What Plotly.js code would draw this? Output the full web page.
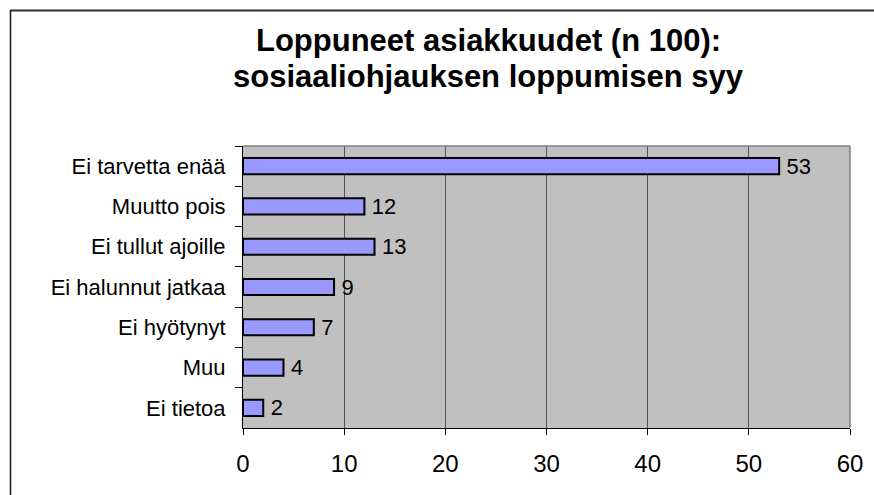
<!DOCTYPE html>
<html>
<head>
<meta charset="utf-8">
<script src="https://cdn.plot.ly/plotly-3.0.1.min.js"></script>
<style>
html,body{margin:0;padding:0;background:#fff;}
#chart{width:874px;height:495px;}
</style>
</head>
<body>
<div id="chart"></div>
<script>
const categories = ["Ei tarvetta enää","Muutto pois","Ei tullut ajoille","Ei halunnut jatkaa","Ei hyötynyt","Muu","Ei tietoa"];
const values = [53, 12, 13, 9, 7, 4, 2];
const xTicks = [0, 10, 20, 30, 40, 50, 60];
const titleLines = ["Loppuneet asiakkuudet (n 100):", "sosiaaliohjauksen loppumisen syy"];

const W = 874, H = 495;
const L = 243, R = 850, T = 146, B = 428;
const px = x => (x - L) / (R - L);
const py = y => (B - y) / (B - T);
const FAM = 'Liberation Sans, Arial, sans-serif';

const trace = {
  type: 'bar',
  orientation: 'h',
  y: categories,
  x: values,
  width: 0.4,
  marker: {color: '#9999FF', line: {color: '#000000', width: 2}},
  text: values.map(v => '\u2009' + v),
  textposition: 'outside',
  constraintext: 'none',
  cliponaxis: false,
  textfont: {family: FAM, size: 22, color: '#000'},
  hoverinfo: 'none'
};

const layout = {
  width: W, height: H,
  margin: {l: L, r: W - R, t: T, b: H - B, pad: 0},
  paper_bgcolor: '#ffffff',
  plot_bgcolor: '#C0C0C0',
  showlegend: false,
  font: {family: FAM, size: 22, color: '#000'},
  xaxis: {
    range: [0, 60],
    tickvals: xTicks,
    ticktext: xTicks.map(String),
    showgrid: true,
    gridcolor: '#555555',
    gridwidth: 1,
    zeroline: false,
    showline: true,
    linecolor: '#000',
    linewidth: 1,
    ticks: 'outside',
    ticklen: 6,
    tickcolor: '#000',
    tickfont: {family: FAM, size: 24, color: '#000'},
    ticklabelstandoff: 8,
    fixedrange: true
  },
  yaxis: {
    autorange: 'reversed',
    type: 'category',
    showgrid: false,
    zeroline: false,
    showline: true,
    linecolor: '#000',
    linewidth: 1,
    ticks: 'outside',
    ticklen: 7,
    tickcolor: '#000',
    tickson: 'boundaries',
    tickfont: {family: FAM, size: 22, color: '#000'},
    ticklabelstandoff: 12,
    fixedrange: true
  },
  shapes: [
    {type: 'line', xref: 'paper', yref: 'paper', x0: 0, x1: 1, y0: 1, y1: 1, line: {color: '#808080', width: 1.5}},
    {type: 'line', xref: 'paper', yref: 'paper', x0: 1, x1: 1, y0: 0, y1: 1, line: {color: '#808080', width: 1.5}},
    {type: 'line', xref: 'paper', yref: 'paper', x0: px(10), x1: px(W + 5), y0: py(10.5), y1: py(10.5), line: {color: '#333333', width: 2}},
    {type: 'line', xref: 'paper', yref: 'paper', x0: px(10.5), x1: px(10.5), y0: py(10), y1: py(H + 5), line: {color: '#111111', width: 1.5}}
  ],
  annotations: [
    {text: '<b>' + titleLines[0] + '</b>', xref: 'paper', yref: 'paper', x: px(488), y: py(41), xanchor: 'center', yanchor: 'middle', showarrow: false,
     font: {family: FAM, size: 31, color: '#000'}},
    {text: '<b>' + titleLines[1] + '</b>', xref: 'paper', yref: 'paper', x: px(488), y: py(77), xanchor: 'center', yanchor: 'middle', showarrow: false,
     font: {family: FAM, size: 31, color: '#000'}}
  ]
};

Plotly.newPlot('chart', [trace], layout, {staticPlot: true, displayModeBar: false});
</script>
</body>
</html>
